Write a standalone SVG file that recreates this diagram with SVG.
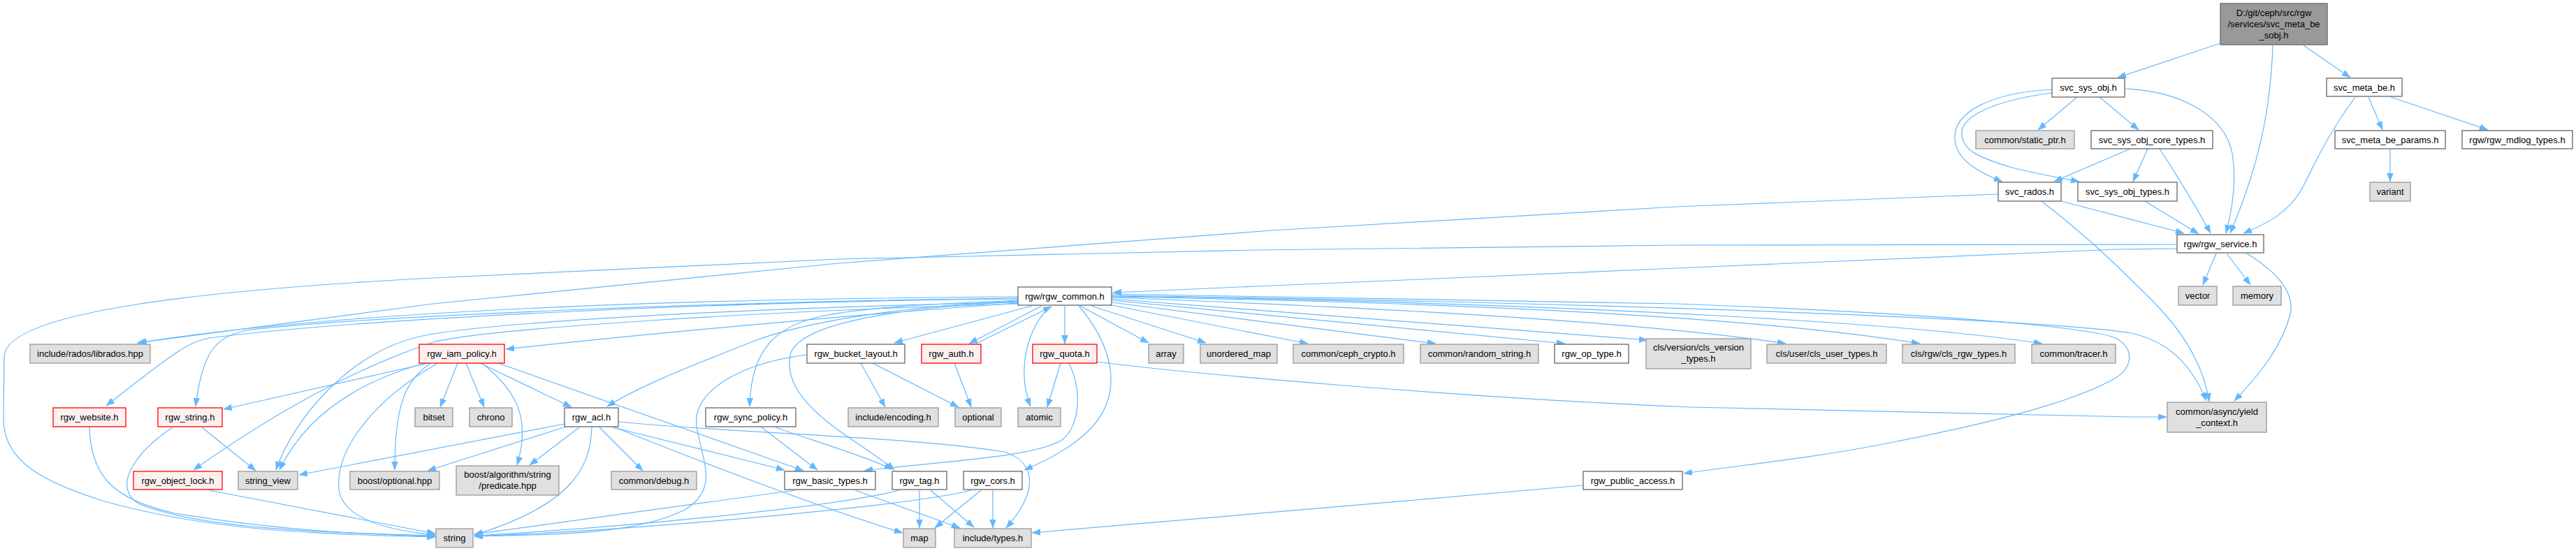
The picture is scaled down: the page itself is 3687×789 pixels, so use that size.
<svg xmlns="http://www.w3.org/2000/svg" width="3687" height="789" viewBox="0 0 3687 789">
<style>
rect{stroke-width:1.3}
.n rect{fill:#ffffff;stroke:#666666}
.g rect{fill:#e0e0e0;stroke:#999999}
.r rect{fill:#fff0f0;stroke:#ff0000}
.root rect{fill:#999999;stroke:#666666}
text{font-family:"Liberation Sans",Arial,Helvetica,sans-serif;font-size:13px;fill:#000000;text-anchor:middle}
#edges path{fill:none;stroke:#63b8ff;stroke-width:1.2;marker-end:url(#a)}
</style>
<defs>
<marker id="a" markerUnits="userSpaceOnUse" markerWidth="13" markerHeight="10" refX="12" refY="4.5" orient="auto">
<path d="M0,0 L12,4.5 L0,9 z" fill="#63b8ff" stroke="#63b8ff" stroke-width="0.5"/>
</marker>
</defs>
<rect width="3687" height="789" fill="#ffffff"/>
<g id="edges">
<path d="M3178,62 L3031,111"/>
<path d="M3253,65 C3250,160 3232,240 3192,334"/>
<path d="M3297,65 L3364,111"/>
<path d="M2973,139 L2917,186"/>
<path d="M3005,139 L3061,186"/>
<path d="M2937,128 C2850,133 2795,160 2798,200 C2800,230 2835,248 2866,260"/>
<path d="M2937,133 C2860,143 2805,165 2808,193 C2810,215 2830,225 2880,240 C2920,250 2950,255 2976,260"/>
<path d="M3041,127 C3120,130 3185,165 3195,220 C3202,260 3195,300 3186,334"/>
<path d="M3049,213 L2940,260"/>
<path d="M3074,213 L3053,260"/>
<path d="M3091,213 C3115,250 3140,290 3164,334"/>
<path d="M3070,288 L3147,335"/>
<path d="M2950,288 L3126,334"/>
<path d="M2922,288 C2990,340 3040,390 3080,430 C3130,480 3155,530 3162,575"/>
<path d="M2860,278 L2400,296 L1820,330 L1200,377 L620,435 L196,491"/>
<path d="M3116,350 L2400,351 L1800,358 L1200,371 L620,398 C300,415 10,445 6,510 L5,600 C5,660 60,690 150,718 C300,760 450,765 623,769"/>
<path d="M3116,356 L3030,357 L2400,384 L2033,400 L1820,409 L1593,419"/>
<path d="M3172,363 L3153,408"/>
<path d="M3187,363 L3221,408"/>
<path d="M3216,363 C3260,390 3285,420 3278,450 C3265,500 3230,540 3198,574"/>
<path d="M3371,139 C3330,195 3310,240 3295,270 C3275,305 3245,320 3211,334"/>
<path d="M3390,139 L3410,186"/>
<path d="M3422,139 L3561,186"/>
<path d="M3421,213 L3421,260"/>
<path d="M1546,438 L1644,491"/>
<path d="M1562,438 L1726,491"/>
<path d="M1591,437 L1872,492"/>
<path d="M1591,433 L2055,492"/>
<path d="M1591,430 L2240,492"/>
<path d="M1591,428 L2358,487"/>
<path d="M1591,426 C2100,445 2400,468 2556,492"/>
<path d="M1591,425 C2200,435 2550,460 2748,492"/>
<path d="M1591,424 C2300,435 2750,465 2923,492"/>
<path d="M1591,423 C2400,435 2950,460 3050,477 C3110,490 3140,530 3158,574"/>
<path d="M1591,421 L2400,435 C2800,450 3000,470 3030,485 C3055,500 3052,525 3030,540 C2980,570 2880,600 2700,635 C2600,655 2500,665 2410,678"/>
<path d="M1524,438 L1524,492"/>
<path d="M1491,438 L1387,492"/>
<path d="M1395,493 L1505,439"/>
<path d="M1503,439 C1470,470 1455,530 1475,582"/>
<path d="M1544,438 C1580,480 1600,530 1585,575 C1570,620 1520,650 1466,673"/>
<path d="M1477,438 L1280,491"/>
<path d="M1457,430 C1350,435 1250,438 1180,452 C1110,466 1075,500 1073,582"/>
<path d="M1457,431 C1300,438 1150,460 1075,490 C1000,520 920,550 869,582"/>
<path d="M1457,434 C1300,445 1000,470 724,500"/>
<path d="M1457,432 C1300,440 1150,460 1132,505 C1120,550 1160,590 1220,630 C1250,650 1265,660 1280,673"/>
<path d="M1090,612 L1170,673"/>
<path d="M1110,612 C1160,630 1230,650 1278,672"/>
<path d="M1457,425 C900,428 450,450 198,491"/>
<path d="M1457,428 C1000,432 500,458 300,484 C270,490 255,500 152,581"/>
<path d="M1457,427 C1000,432 500,455 360,472 C310,480 290,500 280,582"/>
<path d="M1457,433 C1100,440 700,460 600,482 C500,505 420,600 395,673"/>
<path d="M1457,435 C1100,445 700,470 620,490 C500,530 380,600 277,673"/>
<path d="M613,520 L320,586"/>
<path d="M605,521 C520,545 440,590 400,673"/>
<path d="M615,521 C580,545 565,580 565,673"/>
<path d="M625,521 C540,570 480,640 485,700 C490,745 560,760 623,766"/>
<path d="M655,520 L630,583"/>
<path d="M667,520 L693,583"/>
<path d="M687,520 L818,583"/>
<path d="M691,521 C740,560 760,600 740,666"/>
<path d="M713,520 L1150,674"/>
<path d="M808,607 L428,680"/>
<path d="M810,611 L612,674"/>
<path d="M829,612 L758,666"/>
<path d="M847,612 C845,660 830,720 679,766"/>
<path d="M858,612 L920,674"/>
<path d="M877,612 L1123,673"/>
<path d="M880,612 C1050,680 1200,735 1292,763"/>
<path d="M885,604 C1050,620 1300,625 1437,647 C1480,660 1490,700 1440,756"/>
<path d="M1232,520 L1267,583"/>
<path d="M1249,520 L1372,583"/>
<path d="M1155,508 C1060,520 990,560 997,610 C1005,660 1030,700 980,730 C900,770 760,765 679,768"/>
<path d="M1366,520 L1390,583"/>
<path d="M1518,520 L1499,583"/>
<path d="M1530,520 C1550,560 1545,610 1520,630 C1480,655 1350,660 1237,674"/>
<path d="M1570,518 C1700,535 2100,570 2420,583 L3050,597 L3101,597"/>
<path d="M1138,702 L679,765"/>
<path d="M1224,702 L1374,756"/>
<path d="M1316,702 L1316,756"/>
<path d="M1332,702 L1394,755"/>
<path d="M1287,702 C1200,725 900,755 679,767"/>
<path d="M1404,702 L1338,756"/>
<path d="M1421,702 L1421,756"/>
<path d="M1390,702 C1300,725 900,760 679,768"/>
<path d="M2266,695 C2000,718 1700,745 1477,763"/>
<path d="M128,612 C130,680 160,715 250,735 C400,760 520,765 623,768"/>
<path d="M247,612 C190,650 160,700 200,722 C280,755 450,763 623,767"/>
<path d="M289,612 L366,674"/>
<path d="M299,702 L623,764"/>
</g>
<g id="node-root" class="root"><rect x="3178" y="5" width="153" height="59"/><text x="3254.5" y="23">D:/git/ceph/src/rgw</text><text x="3254.5" y="39">/services/svc_meta_be</text><text x="3254.5" y="55">_sobj.h</text></g>
<g id="node-svc_sys_obj" class="n"><rect x="2937" y="112" width="104" height="27"/><text x="2989" y="130">svc_sys_obj.h</text></g>
<g id="node-static_ptr" class="g"><rect x="2828" y="187" width="141" height="26"/><text x="2898.5" y="204.5">common/static_ptr.h</text></g>
<g id="node-core_types" class="n"><rect x="2993" y="187" width="174" height="26"/><text x="3080" y="204.5">svc_sys_obj_core_types.h</text></g>
<g id="node-svc_rados" class="n"><rect x="2860" y="261" width="90" height="27"/><text x="2905" y="279">svc_rados.h</text></g>
<g id="node-svc_sys_obj_types" class="n"><rect x="2974" y="261" width="142" height="27"/><text x="3045" y="279">svc_sys_obj_types.h</text></g>
<g id="node-rgw_service" class="n"><rect x="3116" y="336" width="124" height="26"/><text x="3178" y="353.5">rgw/rgw_service.h</text></g>
<g id="node-svc_meta_be" class="n"><rect x="3330" y="112" width="108" height="26"/><text x="3384" y="129.5">svc_meta_be.h</text></g>
<g id="node-svc_meta_be_params" class="n"><rect x="3342" y="187" width="158" height="26"/><text x="3421" y="204.5">svc_meta_be_params.h</text></g>
<g id="node-mdlog_types" class="n"><rect x="3524" y="187" width="158" height="26"/><text x="3603" y="204.5">rgw/rgw_mdlog_types.h</text></g>
<g id="node-variant" class="g"><rect x="3392" y="261" width="58" height="27"/><text x="3421" y="279">variant</text></g>
<g id="node-vector" class="g"><rect x="3118" y="410" width="55" height="27"/><text x="3145.5" y="428">vector</text></g>
<g id="node-memory" class="g"><rect x="3196" y="410" width="69" height="27"/><text x="3230.5" y="428">memory</text></g>
<g id="node-yield_context" class="g"><rect x="3102" y="576" width="142" height="43"/><text x="3173" y="594">common/async/yield</text><text x="3173" y="610">_context.h</text></g>
<g id="node-rgw_common" class="n"><rect x="1457" y="411" width="134" height="26"/><text x="1524" y="428.5">rgw/rgw_common.h</text></g>
<g id="node-librados" class="g"><rect x="43" y="493" width="172" height="27"/><text x="129" y="511">include/rados/librados.hpp</text></g>
<g id="node-rgw_iam_policy" class="r"><rect x="600" y="493" width="122" height="27"/><text x="661" y="511">rgw_iam_policy.h</text></g>
<g id="node-rgw_bucket_layout" class="n"><rect x="1155" y="493" width="140" height="27"/><text x="1225" y="511">rgw_bucket_layout.h</text></g>
<g id="node-rgw_auth" class="r"><rect x="1319" y="493" width="85" height="27"/><text x="1361.5" y="511">rgw_auth.h</text></g>
<g id="node-rgw_quota" class="r"><rect x="1478" y="493" width="92" height="27"/><text x="1524" y="511">rgw_quota.h</text></g>
<g id="node-array" class="g"><rect x="1644" y="493" width="50" height="27"/><text x="1669" y="511">array</text></g>
<g id="node-unordered_map" class="g"><rect x="1718" y="493" width="110" height="27"/><text x="1773" y="511">unordered_map</text></g>
<g id="node-ceph_crypto" class="g"><rect x="1851" y="493" width="158" height="27"/><text x="1930" y="511">common/ceph_crypto.h</text></g>
<g id="node-random_string" class="g"><rect x="2033" y="493" width="169" height="27"/><text x="2117.5" y="511">common/random_string.h</text></g>
<g id="node-rgw_op_type" class="n"><rect x="2225" y="493" width="106" height="27"/><text x="2278" y="511">rgw_op_type.h</text></g>
<g id="node-cls_version_types" class="g"><rect x="2356" y="485" width="150" height="43"/><text x="2431" y="502">cls/version/cls_version</text><text x="2431" y="518">_types.h</text></g>
<g id="node-cls_user_types" class="g"><rect x="2529" y="493" width="171" height="27"/><text x="2614.5" y="511">cls/user/cls_user_types.h</text></g>
<g id="node-cls_rgw_types" class="g"><rect x="2723" y="493" width="161" height="27"/><text x="2803.5" y="511">cls/rgw/cls_rgw_types.h</text></g>
<g id="node-tracer" class="g"><rect x="2908" y="493" width="120" height="27"/><text x="2968" y="511">common/tracer.h</text></g>
<g id="node-rgw_website" class="r"><rect x="76" y="584" width="104" height="27"/><text x="128" y="602">rgw_website.h</text></g>
<g id="node-rgw_string" class="r"><rect x="226" y="584" width="92" height="27"/><text x="272" y="602">rgw_string.h</text></g>
<g id="node-bitset" class="g"><rect x="594" y="584" width="54" height="27"/><text x="621" y="602">bitset</text></g>
<g id="node-chrono" class="g"><rect x="672" y="584" width="61" height="27"/><text x="702.5" y="602">chrono</text></g>
<g id="node-rgw_acl" class="n"><rect x="808" y="584" width="77" height="27"/><text x="846.5" y="602">rgw_acl.h</text></g>
<g id="node-rgw_sync_policy" class="n"><rect x="1010" y="584" width="129" height="27"/><text x="1074.5" y="602">rgw_sync_policy.h</text></g>
<g id="node-encoding" class="g"><rect x="1214" y="584" width="129" height="27"/><text x="1278.5" y="602">include/encoding.h</text></g>
<g id="node-optional" class="g"><rect x="1367" y="584" width="66" height="27"/><text x="1400" y="602">optional</text></g>
<g id="node-atomic" class="g"><rect x="1457" y="584" width="61" height="27"/><text x="1487.5" y="602">atomic</text></g>
<g id="node-rgw_object_lock" class="r"><rect x="191" y="675" width="127" height="26"/><text x="254.5" y="692.5">rgw_object_lock.h</text></g>
<g id="node-string_view" class="g"><rect x="341" y="675" width="85" height="26"/><text x="383.5" y="692.5">string_view</text></g>
<g id="node-boost_optional" class="g"><rect x="501" y="675" width="128" height="26"/><text x="565" y="692.5">boost/optional.hpp</text></g>
<g id="node-predicate" class="g"><rect x="653" y="667" width="147" height="42"/><text x="726.5" y="684">boost/algorithm/string</text><text x="726.5" y="700">/predicate.hpp</text></g>
<g id="node-debug" class="g"><rect x="875" y="675" width="122" height="26"/><text x="936" y="692.5">common/debug.h</text></g>
<g id="node-rgw_basic_types" class="n"><rect x="1123" y="675" width="130" height="26"/><text x="1188" y="692.5">rgw_basic_types.h</text></g>
<g id="node-rgw_tag" class="n"><rect x="1277" y="675" width="78" height="26"/><text x="1316" y="692.5">rgw_tag.h</text></g>
<g id="node-rgw_cors" class="n"><rect x="1379" y="675" width="84" height="26"/><text x="1421" y="692.5">rgw_cors.h</text></g>
<g id="node-rgw_public_access" class="n"><rect x="2266" y="675" width="142" height="26"/><text x="2337" y="692.5">rgw_public_access.h</text></g>
<g id="node-string" class="g"><rect x="624" y="757" width="53" height="27"/><text x="650.5" y="775">string</text></g>
<g id="node-map" class="g"><rect x="1293" y="757" width="46" height="27"/><text x="1316" y="775">map</text></g>
<g id="node-include_types" class="g"><rect x="1366" y="757" width="110" height="27"/><text x="1421" y="775">include/types.h</text></g>
</svg>
